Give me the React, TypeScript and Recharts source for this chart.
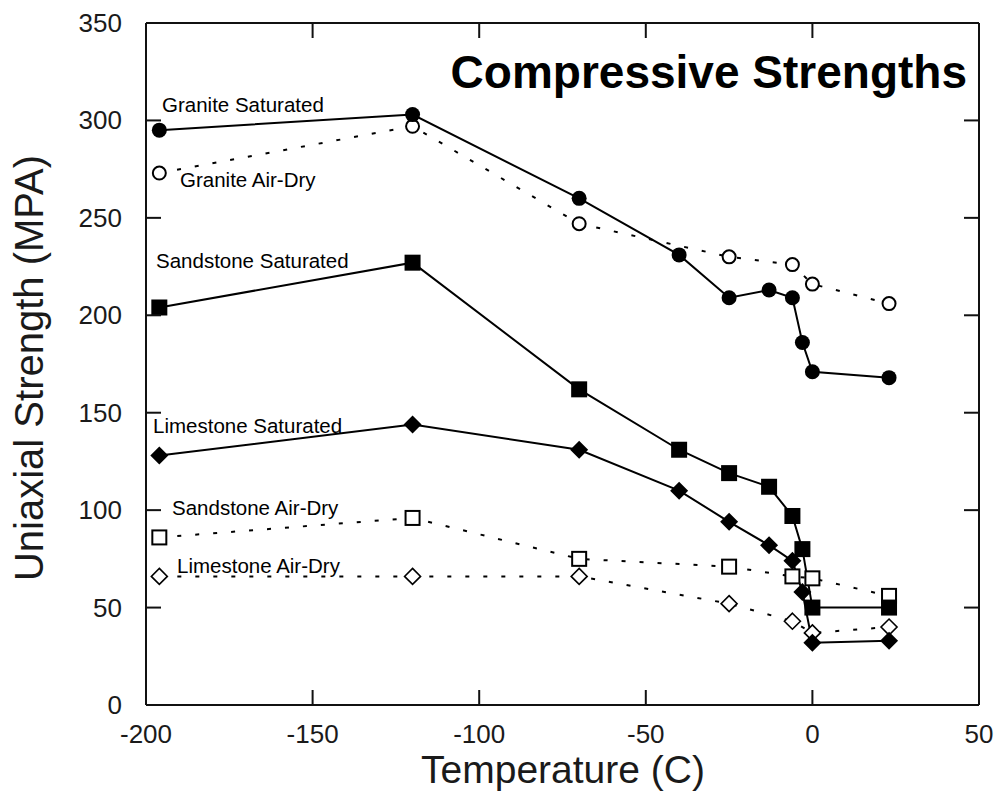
import React from 'react';
import { LineChart, Line, XAxis, YAxis, ReferenceLine } from 'recharts';

const FONT = '"Liberation Sans", Arial, Helvetica, sans-serif';

// Temperatures (C)
const satTemps = [-196, -120, -70, -40, -25, -13, -6, -3, 0, 23];
const dryTemps = [-196, -120, -70, -25, -6, 0, 23];

// Uniaxial strength (MPA)
const graniteSat = [295, 303, 260, 231, 209, 213, 209, 186, 171, 168];
const graniteDry = [273, 297, 247, 230, 226, 216, 206];
const sandstoneSat = [204, 227, 162, 131, 119, 112, 97, 80, 50, 50];
const sandstoneDry = [86, 96, 75, 71, 66, 65, 56];
const limestoneSat = [128, 144, 131, 110, 94, 82, 74, 58, 32, 33];
const limestoneDry = [66, 66, 66, 52, 43, 37, 40];

const xTicks = [-200, -150, -100, -50, 0, 50];
const yTicks = [0, 50, 100, 150, 200, 250, 300, 350];
const xDomain = [-200, 50];
const yDomain = [0, 350];

const seriesLabels = [
  { text: 'Granite Saturated', x: 162, y: 112 },
  { text: 'Granite Air-Dry', x: 180, y: 187 },
  { text: 'Sandstone Saturated', x: 156, y: 268 },
  { text: 'Limestone Saturated', x: 153, y: 433 },
  { text: 'Sandstone Air-Dry', x: 172, y: 515 },
  { text: 'Limestone Air-Dry', x: 177, y: 573 },
];

const toPoints = (t: number[], v: number[]) => t.map((x, i) => ({ t: x, v: v[i] }));

// plot frame geometry (layout)
const W = 997;
const H = 798;
const PLOT_LEFT = 146;
const PLOT_RIGHT = 979;
const PLOT_TOP = 23;
const PLOT_BOTTOM = 705;
const TICK_LEN = 15;

const BottomTick = (p: any) => {
  const { x, payload } = p;
  const cx = typeof payload.coordinate === 'number' ? payload.coordinate : x;
  return (
    <g>
      <line x1={cx} y1={PLOT_BOTTOM} x2={cx} y2={PLOT_BOTTOM - TICK_LEN} stroke="#111" strokeWidth={2} />
      <line x1={cx} y1={PLOT_TOP} x2={cx} y2={PLOT_TOP + TICK_LEN} stroke="#111" strokeWidth={2} />
      <text x={cx} y={PLOT_BOTTOM + 38} textAnchor="middle" fontSize={26} fontFamily={FONT} fill="#1a1a1a">
        {payload.value}
      </text>
    </g>
  );
};
const LeftTick = (p: any) => {
  const { y, payload } = p;
  const cy = typeof payload.coordinate === 'number' ? payload.coordinate : y;
  return (
    <g>
      <line x1={PLOT_LEFT} y1={cy} x2={PLOT_LEFT + TICK_LEN} y2={cy} stroke="#111" strokeWidth={2} />
      <line x1={PLOT_RIGHT} y1={cy} x2={PLOT_RIGHT - TICK_LEN} y2={cy} stroke="#111" strokeWidth={2} />
      <text x={PLOT_LEFT - 24} y={cy + 9} textAnchor="end" fontSize={26} fontFamily={FONT} fill="#1a1a1a">
        {payload.value}
      </text>
    </g>
  );
};

const FilledCircle = (p: any) => <circle key={p.index} cx={p.cx} cy={p.cy} r={7.5} fill="#000" />;
const OpenCircle = (p: any) => (
  <circle key={p.index} cx={p.cx} cy={p.cy} r={6.5} fill="#fff" stroke="#000" strokeWidth={2} />
);
const FilledSquare = (p: any) => (
  <rect key={p.index} x={p.cx - 8} y={p.cy - 8} width={16} height={16} fill="#000" />
);
const OpenSquare = (p: any) => (
  <rect key={p.index} x={p.cx - 7} y={p.cy - 7} width={14} height={14} fill="#fff" stroke="#000" strokeWidth={2} />
);
const FilledDiamond = (p: any) => (
  <polygon
    key={p.index}
    points={`${p.cx},${p.cy - 9} ${p.cx + 9},${p.cy} ${p.cx},${p.cy + 9} ${p.cx - 9},${p.cy}`}
    fill="#000"
  />
);
const OpenDiamond = (p: any) => (
  <polygon
    key={p.index}
    points={`${p.cx},${p.cy - 8} ${p.cx + 8},${p.cy} ${p.cx},${p.cy + 8} ${p.cx - 8},${p.cy}`}
    fill="#fff"
    stroke="#000"
    strokeWidth={1.6}
  />
);

const DASH = '4 14';

export default function App() {
  return (
    <div style={{ position: 'relative', width: W, height: H, background: '#fff' }}>
      <style>{'body{margin:0;background:#fff}'}</style>
      <LineChart
        width={W}
        height={H}
        margin={{ top: PLOT_TOP, right: W - PLOT_RIGHT, left: 0, bottom: 0 }}
      >
        <XAxis
          dataKey="t"
          type="number"
          domain={xDomain}
          ticks={xTicks}
          interval={0}
          height={H - PLOT_BOTTOM}
          tickSize={0}
          tickMargin={0}
          tickLine={false}
          tick={BottomTick}
          axisLine={{ stroke: '#111', strokeWidth: 2 }}
          allowDataOverflow
        />
        <YAxis
          type="number"
          domain={yDomain}
          ticks={yTicks}
          interval={0}
          width={PLOT_LEFT}
          tickSize={0}
          tickMargin={0}
          tickLine={false}
          tick={LeftTick}
          axisLine={{ stroke: '#111', strokeWidth: 2 }}
          allowDataOverflow
        />
        <ReferenceLine y={350} stroke="#111" strokeWidth={2} />
        <ReferenceLine x={50} stroke="#111" strokeWidth={2} />
        <Line
          data={toPoints(dryTemps, graniteDry)}
          dataKey="v"
          stroke="#000"
          strokeWidth={2}
          strokeDasharray={DASH}
          dot={OpenCircle}
          activeDot={false}
          isAnimationActive={false}
        />
        <Line
          data={toPoints(dryTemps, sandstoneDry)}
          dataKey="v"
          stroke="#000"
          strokeWidth={2}
          strokeDasharray={DASH}
          dot={OpenSquare}
          activeDot={false}
          isAnimationActive={false}
        />
        <Line
          data={toPoints(dryTemps, limestoneDry)}
          dataKey="v"
          stroke="#000"
          strokeWidth={2}
          strokeDasharray={DASH}
          dot={OpenDiamond}
          activeDot={false}
          isAnimationActive={false}
        />
        <Line
          data={toPoints(satTemps, graniteSat)}
          dataKey="v"
          stroke="#000"
          strokeWidth={2}
          dot={FilledCircle}
          activeDot={false}
          isAnimationActive={false}
        />
        <Line
          data={toPoints(satTemps, sandstoneSat)}
          dataKey="v"
          stroke="#000"
          strokeWidth={2}
          dot={FilledSquare}
          activeDot={false}
          isAnimationActive={false}
        />
        <Line
          data={toPoints(satTemps, limestoneSat)}
          dataKey="v"
          stroke="#000"
          strokeWidth={2}
          dot={FilledDiamond}
          activeDot={false}
          isAnimationActive={false}
        />
      </LineChart>
      <svg
        width={W}
        height={H}
        style={{ position: 'absolute', left: 0, top: 0, pointerEvents: 'none' }}
      >
        <text x={967} y={88} textAnchor="end" fontSize={46} fontWeight="bold" fontFamily={FONT} fill="#000">
          Compressive Strengths
        </text>
        {seriesLabels.map((l) => (
          <text key={l.text} x={l.x} y={l.y} fontSize={20.5} fontFamily={FONT} fill="#000">
            {l.text}
          </text>
        ))}
        <text x={563} y={783} textAnchor="middle" fontSize={39} fontFamily={FONT} fill="#1a1a1a">
          Temperature (C)
        </text>
        <text
          x={43}
          y={368}
          textAnchor="middle"
          fontSize={40}
          fontFamily={FONT}
          fill="#1a1a1a"
          transform="rotate(-90 43 368)"
        >
          Uniaxial Strength (MPA)
        </text>
      </svg>
    </div>
  );
}
